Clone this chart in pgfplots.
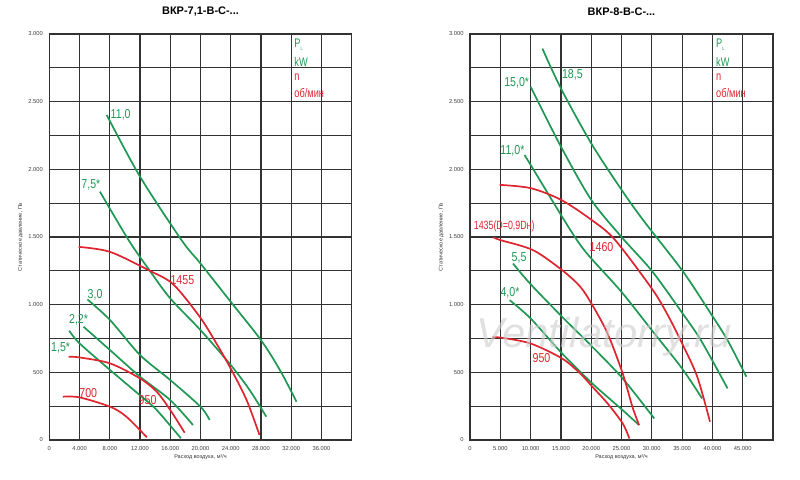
\documentclass[border=0pt]{standalone}
\usepackage{fontspec}
\setmainfont{Liberation Sans}
\newfontfamily\narrowfont[FakeStretch=0.82]{Liberation Sans}
\newfontfamily\legfont[FakeStretch=0.74]{Liberation Sans}
\usepackage{pgfplots}
\pgfplotsset{compat=1.18}
\definecolor{cgreen}{RGB}{31,152,84}
\definecolor{cred}{RGB}{222,36,46}
\definecolor{cgrid}{RGB}{50,50,50}
\pgfplotsset{
 fan/.style={
  scale only axis, height=406bp, anchor=south west,
  ymin=0, ymax=3000, xmin=0,
  ytick={0,500,...,3000}, minor ytick={250,750,...,2750},
  grid=both,
  major grid style={draw=cgrid, line width=1.2bp},
  minor grid style={draw=cgrid, line width=1.2bp},
  axis line style={draw=cgrid, line width=1.4bp},
  major tick length=0pt, minor tick length=0pt,
  tick style={draw=none},
  tick label style={font=\fontsize{5.8}{6}\selectfont, text=black!75},
  xticklabel style={yshift=-3bp},
  yticklabel style={xshift=-3bp},
  /pgf/number format/assume math mode=true,
  /pgf/number format/fixed,
  /pgf/number format/1000 sep={.},
  scaled ticks=false,
  xlabel={Расход воздуха, м³/ч},
  ylabel={Статическое давление, Па},
  label style={font=\fontsize{5.5}{6}\selectfont, text=black!80},
  xlabel style={at={(axis description cs:0.5,0)}, anchor=center, yshift=-17bp},
  ylabel style={at={(axis description cs:-0.095,0.5)}, anchor=center},
  title style={at={(axis description cs:0.5,1)}, anchor=center, yshift=16bp, font=\bfseries\fontsize{11}{12}\selectfont},
  clip=false,
 },
 g/.style={cgreen, line width=1.7bp, smooth, tension=0.5},
 r/.style={cred, line width=1.7bp, smooth, tension=0.5},
}
\tikzset{
 lab/.style={font=\narrowfont\fontsize{13}{13}\selectfont, inner sep=0pt},
 leg/.style={font=\legfont\fontsize{12.5}{12}\selectfont, inner sep=0pt, anchor=west},
}
\begin{document}
\begin{tikzpicture}[x=1bp,y=1bp]
\useasboundingbox (0,0) rectangle (800,480);
% ---------- left chart ----------
\begin{axis}[fan, width=302.4bp, at={(49.3bp,40bp)}, xmax=40000,
  xtick={0,4000,...,36000}, title={ВКР-7,1-В-С-...}]
\addplot[g] coordinates {(7590,2402)(12000,1946)(17500,1476)(20000,1304)(24000,1021)(28000,738)(30500,517)(32700,283)};
\addplot[g] coordinates {(6700,1835)(10500,1476)(13300,1250)(16000,1046)(20000,812)(24000,554)(26500,369)(28700,172)};
\addplot[g] coordinates {(5050,1038)(8040,886)(12000,628)(16000,443)(20000,246)(21200,148)};
\addplot[g] coordinates {(4530,837)(8040,664)(12000,468)(16000,295)(19000,111)};
\addplot[g] coordinates {(2640,807)(4000,714)(8040,517)(12000,330)(14200,222)(17400,13)};
\addplot[r] coordinates {(3870,1427)(8040,1390)(13300,1250)(16400,1150)(19900,910)(22100,714)(24100,517)(26100,295)(27800,37)};
\addplot[r] coordinates {(2550,615)(4000,610)(8040,566)(12000,455)(14200,357)(16000,222)(17900,54)};
\addplot[r] coordinates {(1800,320)(4000,315)(8040,246)(10200,172)(12900,20)};
\node[lab, text=cgreen] at (axis cs:9440,2402) {11,0};
\node[lab, text=cgreen] at (axis cs:5500,1885) {7,5*};
\node[lab, text=cgreen] at (axis cs:6060,1071) {3,0};
\node[lab, text=cgreen] at (axis cs:3870,886) {2,2*};
\node[lab, text=cgreen] at (axis cs:1500,678) {1,5*};
\node[lab, text=cred] at (axis cs:17600,1183) {1455};
\node[lab, text=cred] at (axis cs:13000,296) {950};
\node[lab, text=cred] at (axis cs:5150,345) {700};
\node[leg, text=cgreen] at (axis cs:32400,2919) {P\raisebox{-3bp}{\fontsize{5}{5}\selectfont L}};
\node[leg, text=cgreen] at (axis cs:32400,2794) {kW};
\node[leg, text=cred] at (axis cs:32400,2683) {n};
\node[leg, text=cred] at (axis cs:32400,2565) {об/мин};
\end{axis}
% ---------- right chart ----------
\begin{axis}[fan, width=303bp, at={(470bp,40bp)}, xmax=50000,
  xtick={0,5000,...,45000}, title={ВКР-8-В-С-...}]
\addplot[g] coordinates {(11950,2892)(15000,2598)(20000,2192)(25000,1849)(28600,1623)(35000,1254)(39200,971)(42500,737)(45600,467)};
\addplot[g] coordinates {(10000,2610)(15000,2168)(20000,1775)(25000,1500)(30000,1250)(34700,959)(38100,737)(42500,381)};
\addplot[g] coordinates {(9000,2106)(10000,2033)(15000,1664)(17600,1480)(19700,1357)(25000,1094)(30000,811)(35000,528)(38300,307)};
\addplot[g] coordinates {(7100,1304)(9900,1156)(15200,910)(20200,688)(25200,454)(30400,159)};
\addplot[g] coordinates {(6550,1033)(10000,898)(15200,639)(20200,417)(25200,220)(27900,110)};
\addplot[r] coordinates {(4900,1885)(10000,1861)(15000,1775)(20000,1628)(23900,1480)(30000,1119)(32500,934)(35000,713)(37500,467)(39600,135)};
\addplot[r] coordinates {(3850,1498)(4950,1478)(10400,1403)(15200,1255)(18200,1132)(20200,996)(22700,787)(25200,491)(26800,245)(27900,110)};
\addplot[r] coordinates {(3670,757)(5000,757)(10000,713)(15200,602)(18200,491)(20200,393)(22700,270)(25200,122)(26300,11)};
\node[lab, text=cgreen] at (axis cs:16900,2698) {18,5};
\node[lab, text=cgreen] at (axis cs:7700,2636) {15,0*};
\node[lab, text=cgreen] at (axis cs:7000,2136) {11,0*};
\node[lab, text=cgreen] at (axis cs:8100,1343) {5,5};
\node[lab, text=cgreen] at (axis cs:6600,1084) {4,0*};
\node[lab, text=cred] at (axis cs:21700,1429) {1460};
\node[lab, text=cred, anchor=west, font=\legfont\fontsize{12}{12}\selectfont] at (axis cs:600,1576) {1435(D=0,9Dн)};
\node[lab, text=cred] at (axis cs:11800,604) {950};
\node[leg, text=cgreen] at (axis cs:40600,2919) {P\raisebox{-3bp}{\fontsize{5}{5}\selectfont L}};
\node[leg, text=cgreen] at (axis cs:40600,2794) {kW};
\node[leg, text=cred] at (axis cs:40600,2683) {n};
\node[leg, text=cred] at (axis cs:40600,2565) {об/мин};
\end{axis}
\node[text=black!20, opacity=0.6, font=\itshape\fontsize{42}{42}\selectfont] at (604,143) {Ventilatorry.ru};
\end{tikzpicture}
\end{document}
